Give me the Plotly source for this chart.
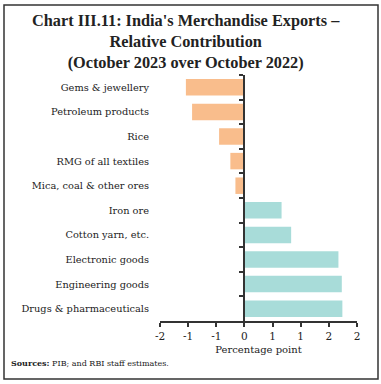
import plotly.graph_objects as go

categories = ["Gems & jewellery", "Petroleum products", "Rice", "RMG of all textiles",
              "Mica, coal & other ores", "Iron ore", "Cotton yarn, etc.", "Electronic goods",
              "Engineering goods", "Drugs & pharmaceuticals"]
values = [-1.04, -0.93, -0.45, -0.25, -0.16, 0.66, 0.83, 1.67, 1.73, 1.74]
tick_vals = [-1.5, -1.0, -0.5, 0.0, 0.5, 1.0, 1.5, 2.0]
tick_text = ["-2", "-1", "-1", "0", "1", "1", "2", "2"]

NEG = "#F9BD8C"
POS = "#A8DCD9"
AX = "#333333"
FONT = "DejaVu Serif"
TFONT = "Liberation Serif"

W, H = 381, 384
ML, MR, MT, MB = 160, 24, 75, 63
PW, PH = W - ML - MR, H - MT - MB
XR = [-1.5, 2.0]

def px(x):
    return (x - ML) / PW

def py(y):
    return 1 - (y - MT) / PH

colors = [NEG if v < 0 else POS for v in values]

fig = go.Figure()
fig.add_trace(go.Bar(x=values, y=categories, orientation="h", marker_color=colors,
                     marker_line_width=0, width=0.67, hoverinfo="x+y", showlegend=False))
fig.add_trace(go.Scatter(x=[0] * len(categories), y=categories, yaxis="y2", mode="markers",
                         marker=dict(opacity=0), hoverinfo="skip", showlegend=False))

zero_pos = (0 - XR[0]) / (XR[1] - XR[0])
n = len(categories)
fig.update_layout(
    width=W, height=H,
    margin=dict(l=ML, r=MR, t=MT, b=MB, autoexpand=False),
    paper_bgcolor="white", plot_bgcolor="white",
    font=dict(family=FONT, size=11, color="#222222"),
    xaxis=dict(range=XR, tickvals=tick_vals, ticktext=tick_text, showgrid=False,
               zeroline=False,
               showline=True, linecolor=AX, linewidth=2, automargin=False,
               ticks="outside", ticklen=4, tickcolor=AX, tickwidth=2,
               tickfont=dict(size=10.5, family=FONT),
               title=dict(text="Percentage point", font=dict(size=10, family=FONT), standoff=5)),
    yaxis=dict(type="category", categoryarray=categories, range=[n - 0.5, -0.5],
               showgrid=False, zeroline=False, showline=False, ticks="", automargin=False,
               ticklabelstandoff=10, tickfont=dict(size=9.8, family=FONT)),
    yaxis2=dict(type="category", categoryarray=categories, range=[n - 0.5, -0.5],
                overlaying="y", anchor="free", position=zero_pos, side="left", automargin=False,
                showgrid=False, zeroline=False, showline=True, linecolor=AX, linewidth=2,
                ticks="outside", tickson="boundaries", ticklen=4, tickcolor=AX, tickwidth=2,
                showticklabels=False),
)

fig.add_annotation(text="<b>Chart III.11: India's Merchandise Exports –<br>Relative Contribution<br>(October 2023 over October 2022)</b>",
                   xref="paper", yref="paper", x=px(185.5), y=py(42), xanchor="center", yanchor="middle",
                   showarrow=False, align="center", font=dict(size=16.3, family=TFONT, color="#222222"))
fig.add_annotation(text="<b>Sources:</b> PIB; and RBI staff estimates.",
                   xref="paper", yref="paper", x=px(9), y=py(363), xanchor="left", yanchor="middle",
                   showarrow=False, font=dict(size=8, family=FONT, color="#222222"))
fig.add_shape(type="rect", xref="paper", yref="paper", x0=px(4), x1=px(378), y0=py(5), y1=py(379),
              line=dict(color="#333333", width=1.5), fillcolor="rgba(0,0,0,0)", layer="below")

fig.write_html("out.html", config={"displayModeBar": False},
               post_script="document.body.style.margin='0';document.body.style.padding='0';")
